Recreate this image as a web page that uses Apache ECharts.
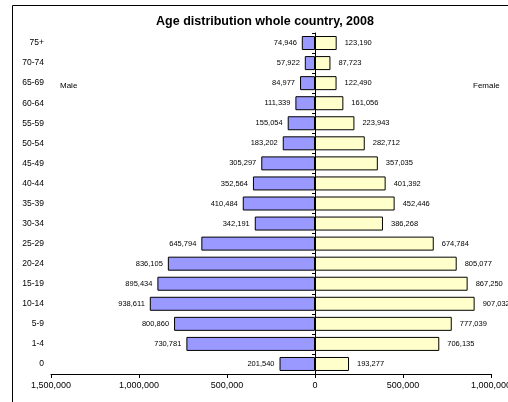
<!DOCTYPE html>
<html>
<head>
<meta charset="utf-8">
<script src="https://cdn.jsdelivr.net/npm/echarts@6/dist/echarts.min.js"></script>
<style>html,body{margin:0;padding:0;background:#fff;overflow:hidden;width:508px;height:402px}#c{width:508px;height:402px;display:block}</style>
</head>
<body>
<div id="c"></div>
<script>
var categories = ['0','1-4','5-9','10-14','15-19','20-24','25-29','30-34','35-39','40-44','45-49','50-54','55-59','60-64','65-69','70-74','75+'];
var male = [201540,730781,800860,938611,895434,836105,645794,342191,410484,352564,305297,183202,155054,111339,84977,57922,74946];
var female = [193277,706135,777039,907032,867250,805077,674784,386268,452446,401392,357035,282712,223943,161056,122490,87723,123190];
var xTicks = [-1500000,-1000000,-500000,0,500000,1000000];

function fmt(v){ return Math.abs(v).toString().replace(/\B(?=(\d{3})+(?!\d))/g, ','); }

var chart = echarts.init(document.getElementById('c'), null, {renderer:'canvas', width:508, height:402});
var FONT = 'Liberation Sans, Arial, sans-serif';
chart.setOption({
  animation:false,
  textStyle:{fontFamily:FONT},
  title:{text:'Age distribution whole country, 2008', left:260, textAlign:'center', top:10,
    textStyle:{fontSize:12.5, fontWeight:'bold', color:'#000', fontFamily:FONT}},
  graphic:[
    {type:'rect', shape:{x:12.5,y:5.5,width:520,height:420}, style:{fill:'none',stroke:'#000',lineWidth:1}, silent:true},
    {type:'text', x:60, y:82, style:{text:'Male', fontSize:8, fill:'#000', fontFamily:FONT}},
    {type:'text', x:473, y:82, style:{text:'Female', fontSize:8, fill:'#000', fontFamily:FONT}}
  ],
  grid:{left:51, right:17, top:33, bottom:28, containLabel:false, outerBoundsMode:'none'},
  xAxis:{type:'value', min:-1500000, max:1000000, interval:500000,
    axisLine:{show:true, onZero:false, lineStyle:{color:'#000'}},
    axisTick:{show:true, length:4, lineStyle:{color:'#000'}},
    splitLine:{show:false},
    axisLabel:{formatter:fmt, fontSize:9, color:'#000', margin:7, fontFamily:FONT, hideOverlap:false}},
  yAxis:[
    {type:'category', data:categories, position:'left',
      axisLine:{show:false, onZero:false}, axisTick:{show:false},
      axisLabel:{fontSize:8.5, color:'#000', margin:7, fontFamily:FONT}},
    {type:'category', data:categories, position:'left',
      axisLine:{show:true, onZero:true, lineStyle:{color:'#000'}},
      axisTick:{show:true, length:3, lineStyle:{color:'#000'}},
      axisLabel:{show:false}}
  ],
  series:[
    {name:'Male', type:'bar', yAxisIndex:0, barWidth:14, barGap:'-100%',
      data:male.map(function(v){return -v;}),
      itemStyle:{color:'#9999ff', borderColor:'#000', borderWidth:1},
      label:{show:true, position:'left', distance:5, formatter:function(p){return fmt(p.value);}, fontSize:7.5, color:'#000', fontFamily:FONT}},
    {name:'Female', type:'bar', yAxisIndex:0, barWidth:14, barGap:'-100%',
      data:female,
      itemStyle:{color:'#ffffcc', borderColor:'#000', borderWidth:1},
      label:{show:true, position:'right', distance:8, formatter:function(p){return fmt(p.value);}, fontSize:7.5, color:'#000', fontFamily:FONT}}
  ]
});
</script>
</body>
</html>
